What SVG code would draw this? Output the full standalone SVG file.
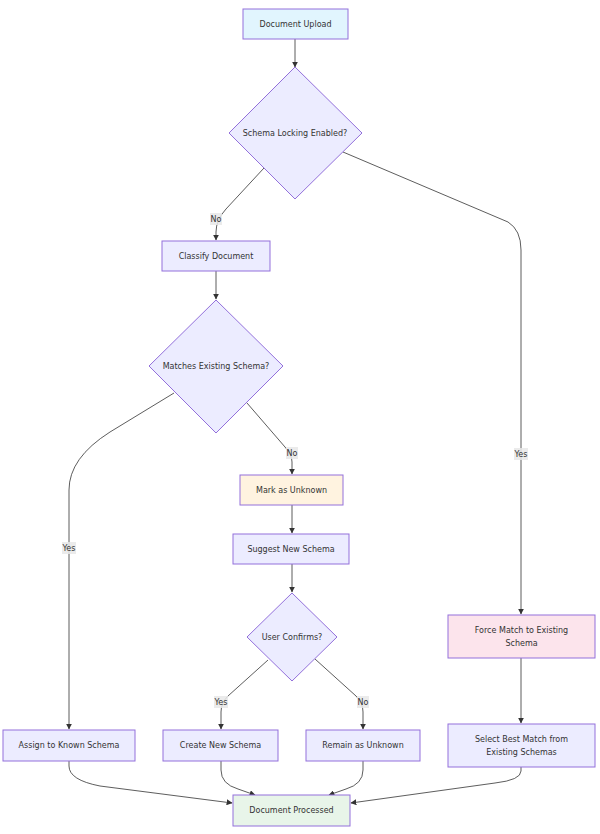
<svg xmlns="http://www.w3.org/2000/svg" width="600" height="834" viewBox="0 0 600 834">
<defs>
<style>
.node rect,.node polygon{fill:#ECECFF;stroke:#9370DB;stroke-width:1}
.node text,.lbl text{font-family:"DejaVu Sans",sans-serif;font-size:8px;fill:#333;text-anchor:middle;dominant-baseline:central}
.edges path{fill:none;stroke:#333;stroke-width:0.8}
.lbl rect{fill:#e8e8e8;opacity:0.85}
</style>
<marker id="arr" viewBox="0 0 10 10" refX="9" refY="5" markerWidth="6" markerHeight="6" markerUnits="userSpaceOnUse" orient="auto">
<path d="M0,0 L10,5 L0,10 z" fill="#333"/>
</marker>
</defs>
<rect width="600" height="834" fill="#fff"/>
<g class="edges">
<path d="M295,39 L295,67" marker-end="url(#arr)"/>
<path d="M264,168 L226,209 Q216,220 216,232 L216,240" marker-end="url(#arr)"/>
<path d="M343,152 L508,222 Q521,230 521,250 L521,614" marker-end="url(#arr)"/>
<path d="M216,271 L216,299" marker-end="url(#arr)"/>
<path d="M174,393 L110,432 Q69,458 69,490 L69,729" marker-end="url(#arr)"/>
<path d="M247,403 L285,447 Q292,455 292,462 L292,474" marker-end="url(#arr)"/>
<path d="M292,505 L292,533" marker-end="url(#arr)"/>
<path d="M292,564 L292,592" marker-end="url(#arr)"/>
<path d="M268,660 L228,696 Q221,703 221,712 L221,729" marker-end="url(#arr)"/>
<path d="M315,659 L356,696 Q363,703 363,712 L363,729" marker-end="url(#arr)"/>
<path d="M521,658 L521,723" marker-end="url(#arr)"/>
<path d="M69,761 L69,766 Q69,780 100,786 L232,803" marker-end="url(#arr)"/>
<path d="M221,761 L221,770 Q221,784 238,789 L255,795" marker-end="url(#arr)"/>
<path d="M363,761 L363,770 Q363,784 346,789 L329,795" marker-end="url(#arr)"/>
<path d="M521,767 L521,771 Q521,780 495,783 L351,803" marker-end="url(#arr)"/>
</g>
<g class="lbl">
<rect x="210" y="213" width="12" height="12"/><text x="216" y="219">No</text>
<rect x="514" y="448" width="14" height="12"/><text x="521" y="454">Yes</text>
<rect x="62" y="542" width="14" height="12"/><text x="69" y="548">Yes</text>
<rect x="286" y="447" width="12" height="12"/><text x="292" y="453">No</text>
<rect x="214" y="696" width="14" height="12"/><text x="221" y="702">Yes</text>
<rect x="357" y="696" width="12" height="12"/><text x="363" y="702">No</text>
</g>
<g id="upload" class="node"><rect x="243" y="9" width="105" height="30" style="fill:#E1F5FE"/><text x="295.5" y="24">Document Upload</text></g>
<g id="locking" class="node"><polygon points="295,67 362,133 295,199 229,133"/><text x="295" y="133">Schema Locking Enabled?</text></g>
<g id="classify" class="node"><rect x="162" y="241" width="108" height="30"/><text x="216" y="256">Classify Document</text></g>
<g id="matches" class="node"><polygon points="216,300 283,366 216,433 149,366"/><text x="216" y="366">Matches Existing Schema?</text></g>
<g id="unknown" class="node"><rect x="240" y="475" width="103" height="30" style="fill:#FFF3E0"/><text x="291.5" y="490">Mark as Unknown</text></g>
<g id="suggest" class="node"><rect x="233" y="534" width="116" height="30"/><text x="291" y="549">Suggest New Schema</text></g>
<g id="confirm" class="node"><polygon points="292,593 337,637 292,681 247,637"/><text x="292" y="637">User Confirms?</text></g>
<g id="assign" class="node"><rect x="3" y="730" width="132" height="31"/><text x="69" y="745.5">Assign to Known Schema</text></g>
<g id="create" class="node"><rect x="163" y="730" width="115" height="31"/><text x="220.5" y="745.5">Create New Schema</text></g>
<g id="remain" class="node"><rect x="306" y="730" width="114" height="31"/><text x="363" y="745.5">Remain as Unknown</text></g>
<g id="force" class="node"><rect x="448" y="615" width="147" height="43" style="fill:#FCE4EC"/><text x="521.5" y="630">Force Match to Existing</text><text x="521.5" y="643.5">Schema</text></g>
<g id="select" class="node"><rect x="448" y="724" width="147" height="43"/><text x="521.5" y="739">Select Best Match from</text><text x="521.5" y="752.5">Existing Schemas</text></g>
<g id="processed" class="node"><rect x="233" y="795" width="117" height="31" style="fill:#E8F5E9"/><text x="291.5" y="810.5">Document Processed</text></g>
</svg>
